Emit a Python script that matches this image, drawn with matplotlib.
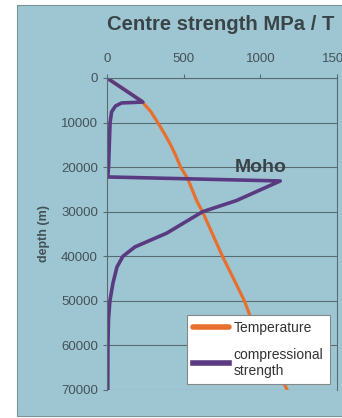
import matplotlib.pyplot as plt
import matplotlib
from matplotlib.patches import Rectangle

matplotlib.rcParams["font.family"] = ["Liberation Sans", "DejaVu Sans"]

# depth profiles (m) with temperature (C) and compressional strength (MPa)
temp_depth = [0, 2500, 5000, 7500, 10000, 12500, 15000, 17500, 20000, 22500,
              25000, 27500, 30000, 35000, 40000, 45000, 50000, 53000, 55000,
              60000, 65000, 70000]
temperature = [0, 110, 220, 285, 331, 375, 415, 450, 480, 525,
               555, 584, 623, 688, 753, 825, 896, 929, 960,
               1035, 1105, 1175]

strength_depth = [0, 5400, 5600, 6300, 7600, 10000, 15000, 20000, 22200, 23100,
                  27500, 30000, 34800, 37900, 40000, 42400, 46000, 50000, 54000,
                  60000, 70000]
strength = [0, 234, 95, 55, 30, 20, 15, 10, 5, 1130,
            844, 623, 390, 182, 104, 65, 39, 19, 10,
            6, 5]

x_ticks = [0, 500, 1000, 1500]
y_ticks = [0, 10000, 20000, 30000, 40000, 50000, 60000, 70000]

BG = "#9ec6d2"
GRID = "#566c72"
TXT = "#435258"
ORANGE = "#e8702e"
PURPLE = "#5a3a80"

fig = plt.figure(figsize=(3.42, 4.18), dpi=100)
fig.patch.set_facecolor("white")
fig.patches.append(Rectangle((17 / 342, 2 / 418), 1.0, 411 / 418,
                             transform=fig.transFigure, facecolor=BG,
                             edgecolor="#7d9198", linewidth=0.8, zorder=-10))

ax = fig.add_axes([107 / 342, 1 - 390 / 418, 230 / 342, 312 / 418])
ax.set_facecolor(BG)

ax.plot(temperature, temp_depth, color=ORANGE, linewidth=2.3,
        label="Temperature", solid_capstyle="round")
ax.plot(strength, strength_depth, color=PURPLE, linewidth=2.6,
        label="compressional\nstrength", solid_joinstyle="round")

ax.set_xlim(0, 1500)
ax.set_ylim(70000, 0)
ax.set_xticks(x_ticks)
ax.set_yticks(y_ticks)
ax.set_yticklabels([str(v) for v in y_ticks])
ax.xaxis.tick_top()
ax.tick_params(axis="both", colors=GRID, labelcolor=TXT, labelsize=9.5,
               length=3, width=0.8)
ax.tick_params(axis="x", pad=6)
ax.grid(axis="y", color=GRID, linewidth=0.8)
ax.set_axisbelow(True)
for side in ["top", "left", "right"]:
    ax.spines[side].set_color(GRID)
    ax.spines[side].set_linewidth(0.8)
ax.spines["bottom"].set_visible(False)

ax.set_ylabel("depth (m)", fontsize=9, fontweight="bold", color=TXT, labelpad=8)

ax.text(1000, 20000, "Moho", fontsize=14, fontweight="bold", color="#3a4448",
        ha="center", va="center")

fig.text(107 / 342, 1 - 25 / 418, "Centre strength MPa / T", fontsize=14.6,
         fontweight="bold", color="#3a4448", ha="left", va="center")

leg = ax.legend(loc="upper left", bbox_to_anchor=(187 / 342, 1 - 315 / 418),
                bbox_transform=fig.transFigure, fontsize=10, frameon=True,
                fancybox=False, handlelength=2.6, handletextpad=0.3,
                borderpad=0.45, labelspacing=0.9, borderaxespad=0)
leg.get_frame().set_facecolor("white")
leg.get_frame().set_edgecolor("#888888")
leg.get_frame().set_linewidth(0.8)
leg.get_frame().set_alpha(1)
for line in leg.get_lines():
    line.set_linewidth(4)
for t in leg.get_texts():
    t.set_color("#333333")

fig.savefig("out.png", dpi=100, facecolor=fig.get_facecolor())
